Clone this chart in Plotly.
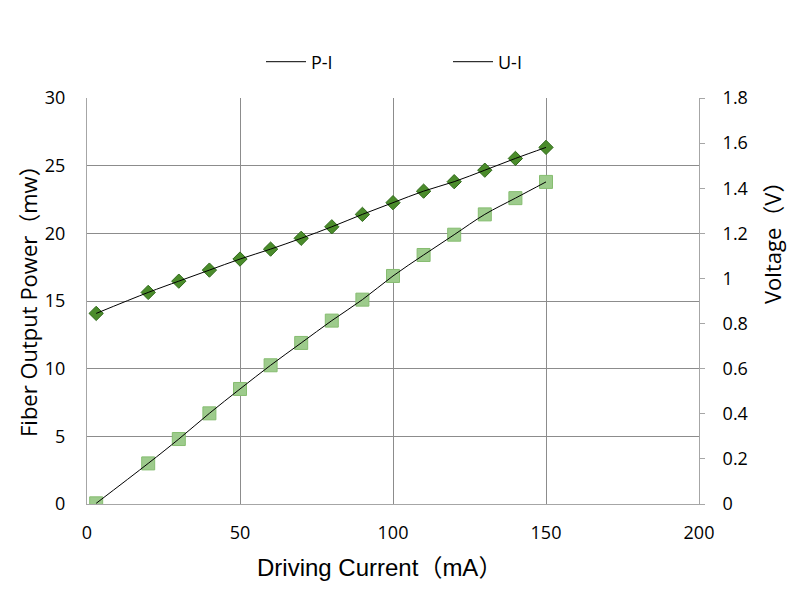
import plotly.graph_objects as go

# Driving current (mA) shared by both curves
current_ma = [3, 20, 30, 40, 50, 60, 70, 80, 90, 100, 110, 120, 130, 140, 150]

# P-I: fiber output power (mW), left axis
power_mw = [0.05, 3.0, 4.8, 6.7, 8.5, 10.25, 11.9, 13.55, 15.1, 16.85,
            18.4, 19.9, 21.4, 22.6, 23.8]

# U-I: voltage (V), right axis
voltage_v = [0.845, 0.938, 0.988, 1.037, 1.086, 1.130, 1.178, 1.229, 1.284,
             1.336, 1.387, 1.429, 1.480, 1.532, 1.581]

x_ticks = [0, 50, 100, 150, 200]
power_ticks = [0, 5, 10, 15, 20, 25, 30]
voltage_ticks = [0, 0.2, 0.4, 0.6, 0.8, 1, 1.2, 1.4, 1.6, 1.8]
voltage_labels = ['0', '0.2', '0.4', '0.6', '0.8', '1', '1.2', '1.4', '1.6', '1.8']

FONT = 'Open Sans, Noto Sans CJK SC, sans-serif'
ARIAL = 'Liberation Sans, Arial, Noto Sans CJK SC, sans-serif'
GRID = '#8c8c8c'
AXIS = '#a6a6a6'

# page body adds an 8px offset, so the figure is drawn 8px smaller
W, H = 792, 581
L, R, T, B = 79, 101, 90, 85


def px(x):
    return (x - L) / (W - L - R)


def py(y):
    return (H - B - y) / (H - T - B)


fig = go.Figure()

# markers (not shown in legend)
fig.add_trace(go.Scatter(
    x=current_ma, y=power_mw, mode='markers', showlegend=False,
    marker=dict(symbol='square', size=13, color='#9dcb8c',
                line=dict(color='#86bd70', width=1)),
))
fig.add_trace(go.Scatter(
    x=current_ma, y=voltage_v, mode='markers', showlegend=False, yaxis='y2',
    marker=dict(symbol='diamond', size=11, color='#4b8c2b',
                line=dict(color='#2f6a1a', width=1)),
))

# smoothed black curves (these carry the legend)
fig.add_trace(go.Scatter(
    x=current_ma, y=power_mw, mode='lines', name='P-I',
    line=dict(color='black', width=1, shape='spline'),
))
fig.add_trace(go.Scatter(
    x=current_ma, y=voltage_v, mode='lines', name='U-I', yaxis='y2',
    line=dict(color='black', width=1, shape='spline'),
))

fig.update_layout(
    width=W, height=H,
    margin=dict(l=L, r=R, t=T, b=B, autoexpand=False),
    paper_bgcolor='white', plot_bgcolor='white',
    font=dict(family=FONT, size=18, color='black'),
    legend=dict(orientation='h', x=px(253), xanchor='left', y=py(54), yanchor='middle',
                font=dict(size=18), itemwidth=40, entrywidth=132,
                traceorder='normal'),
    xaxis=dict(
        range=[0, 200], tickvals=x_ticks, showgrid=True, gridcolor=GRID, gridwidth=1,
        showline=True, linecolor=AXIS, linewidth=1, zeroline=False, ticks='',
        ticklabelstandoff=12,
    ),
    yaxis=dict(
        range=[0, 30], tickvals=power_ticks, showgrid=True, gridcolor=GRID, gridwidth=1,
        showline=True, linecolor=AXIS, linewidth=1, zeroline=False, ticks='',
        ticklabelstandoff=17,
    ),
    yaxis2=dict(
        range=[0, 1.8], tickvals=voltage_ticks, ticktext=voltage_labels,
        overlaying='y', side='right', showgrid=False, zeroline=False,
        showline=True, linecolor=AXIS, linewidth=1,
        ticks='outside', ticklen=5, tickcolor=AXIS, ticklabelstandoff=14,
    ),
    annotations=[
        dict(text='Driving Current（mA）', xref='paper', yref='paper',
             x=px(371), y=py(559), xanchor='center', yanchor='middle',
             showarrow=False, font=dict(family=ARIAL, size=24)),
        dict(text='Fiber Output Power（mw）', xref='paper', yref='paper',
             x=px(20), y=py(288), xanchor='center', yanchor='middle',
             showarrow=False, textangle=-90, font=dict(size=22)),
        dict(text='Voltage（V）', xref='paper', yref='paper',
             x=px(764), y=py(230), xanchor='center', yanchor='middle',
             showarrow=False, textangle=-90, font=dict(size=22)),
    ],
)

fig.write_html('out.html')
